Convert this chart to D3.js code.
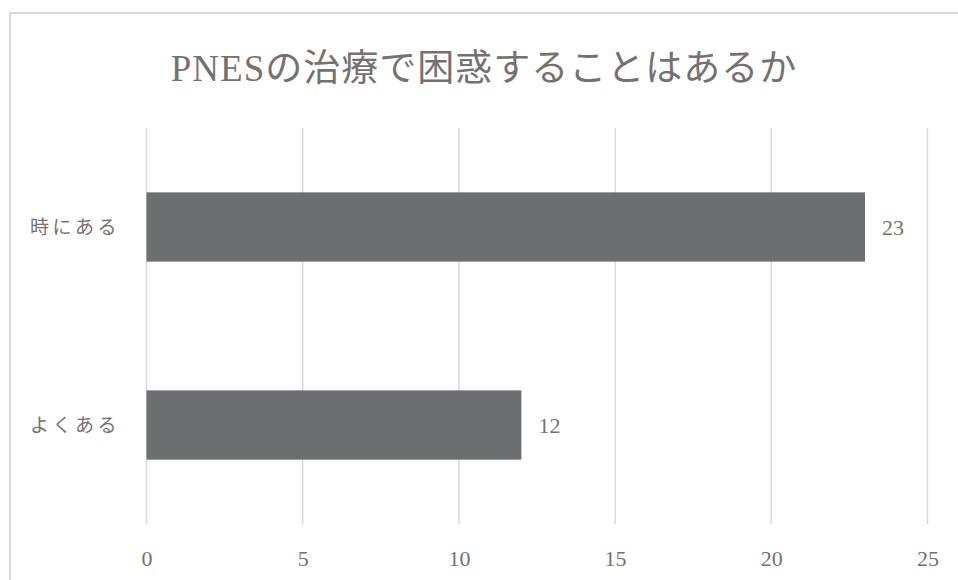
<!DOCTYPE html>
<html>
<head>
<meta charset="utf-8">
<script src="https://cdn.jsdelivr.net/npm/d3@7"></script>
<style>
  html, body { margin: 0; padding: 0; background: #fff; }
  svg { display: block; }
  text { font-family: "Liberation Serif", "DejaVu Serif", "Noto Sans CJK JP", serif; fill: #767171; }
</style>
</head>
<body>
<svg id="chart" width="958" height="580"></svg>
<script>
// Survey answers and counts
const categories = ["時にある", "よくある"];
const counts = [23, 12];
const xTicks = [0, 5, 10, 15, 20, 25];
const title = "PNESの治療で困惑することはあるか";

const svg = d3.select("#chart");

// Chart frame
svg.append("rect")
  .attr("x", 10).attr("y", 13)
  .attr("width", 960).attr("height", 580)
  .attr("fill", "#fff")
  .attr("stroke", "#d9d9d9").attr("stroke-width", 2);

// Plot area
const plot = { left: 146.5, right: 927.5, top: 128, bottom: 524 };

const x = d3.scaleLinear().domain([0, 25]).range([plot.left, plot.right]);
const y = d3.scaleBand().domain(categories).range([plot.top, plot.bottom])
  .paddingInner(0.65).paddingOuter(0.325);

// Vertical gridlines
svg.append("g").selectAll("line").data(xTicks).join("line")
  .attr("x1", d => x(d)).attr("x2", d => x(d))
  .attr("y1", plot.top).attr("y2", plot.bottom)
  .attr("stroke", "#d9d9d9").attr("stroke-width", 1.5);

// Bars
svg.append("g").selectAll("rect").data(categories).join("rect")
  .attr("x", x(0))
  .attr("y", d => y(d))
  .attr("width", (d, i) => x(counts[i]) - x(0))
  .attr("height", y.bandwidth())
  .attr("fill", "#6d6e71");

// Value labels
svg.append("g").selectAll("text").data(categories).join("text")
  .attr("x", (d, i) => x(counts[i]) + 17)
  .attr("y", d => y(d) + y.bandwidth() / 2)
  .attr("dy", "0.35em")
  .attr("font-size", 22)
  .text((d, i) => counts[i]);

// Category axis labels
svg.append("g").selectAll("text").data(categories).join("text")
  .attr("x", 120)
  .attr("y", d => y(d) + y.bandwidth() / 2)
  .attr("dy", "0.35em")
  .attr("text-anchor", "end")
  .attr("font-size", 19)
  .attr("letter-spacing", 3.5)
  .text(d => d);

// X axis tick labels
const xAxis = d3.axisBottom(x).tickValues(xTicks).tickSize(0).tickPadding(0);
const gx = svg.append("g").attr("transform", `translate(0, ${plot.bottom + 26})`).call(xAxis);
gx.select(".domain").remove();
gx.selectAll("text")
  .attr("font-size", 22)
  .attr("fill", "#767171")
  .style("font-family", '"Liberation Serif", "DejaVu Serif", serif');

// Title
svg.append("text")
  .attr("x", 484).attr("y", 68)
  .attr("dy", "0.35em")
  .attr("text-anchor", "middle")
  .attr("font-size", 37)
  .attr("letter-spacing", 1)
  .text(title);
</script>
</body>
</html>
